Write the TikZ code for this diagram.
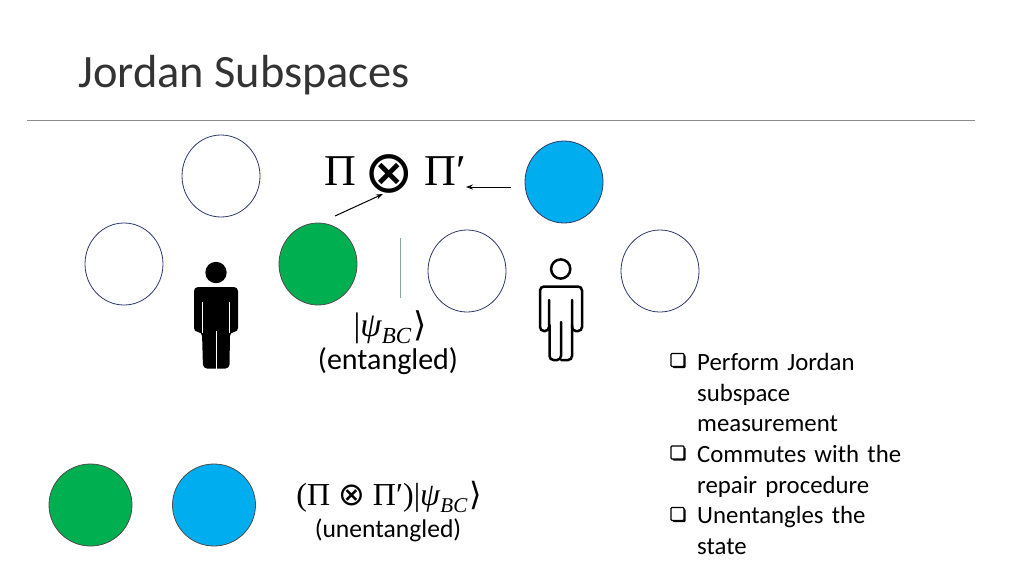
\RequirePackage{fix-cm}
\documentclass[tikz,border=0pt]{standalone}
\usepackage[no-math]{fontspec}
\setmainfont{Carlito}
\newfontfamily\opfont{Liberation Serif}
\newfontfamily\symfont{DejaVu Sans}
\usetikzlibrary{shapes.geometric,shadows,arrows.meta}

\definecolor{slidegreen}{HTML}{00B050}
\definecolor{slideblue}{HTML}{00AEEF}
\definecolor{ringblue}{HTML}{2F3A6B}
\newcommand{\sizedtext}[1]{\fontsize{#1}{#1}\selectfont}
\newcommand{\psiket}[1]{{\opfont|\textit{ψ}\raisebox{-0.2em}{\fontsize{#1}{#1}\selectfont\textit{BC}}}{\symfont\kern0.05em⟩}}

\tikzset{
    qubit/.style={ellipse, draw=ringblue, fill=white, line width=0.8pt, minimum width=78pt, minimum height=82pt, inner sep=0pt},
    bigqubit/.style={qubit, draw=black!70, minimum width=83pt},
    tickbox/.style={rectangle, draw=black, fill=white, line width=1.2pt, rounded corners=1pt, minimum size=13pt, inner sep=0pt,
        general shadow={shadow xshift=1.5pt, shadow yshift=-1.5pt, fill=black}},
    point/.style={inner sep=0pt, text width=210pt, align=left, anchor=north west, font=\fontsize{24.8}{30.7}\selectfont},
    pointer/.style={-{Stealth[length=7pt,width=5pt]}, line width=1pt},
}

\begin{document}
\begin{tikzpicture}[x=1pt,y=-1pt]
    \useasboundingbox (0,0) rectangle (1024,576);

    \node[anchor=base west, inner sep=0pt, font=\sizedtext{46.4}, text=black!80] (title) at (78,87) {Jordan Subspaces};
    \draw[black!45, line width=0.8pt] (27,120.5) coordinate (ruleL) -- (975,120.5) coordinate (ruleR);

    % top row
    \node[qubit] (emptyA) at (221,176) {};
    \node[qubit, fill=slideblue] (blueA) at (564,182) {};

    % middle row
    \node[qubit] (emptyB) at (124,264) {};
    \node[qubit, fill=slidegreen, draw=black!70] (greenA) at (318,264) {};
    \node[qubit] (emptyC) at (467,271) {};
    \node[qubit] (emptyD) at (660,271) {};

    % bottom row
    \node[bigqubit, fill=slidegreen] (greenB) at (90.5,505) {};
    \node[bigqubit, fill=slideblue] (blueB) at (214,505) {};

    % operator
    \node[inner sep=0pt, font=\sizedtext{44}\opfont] (piL) at (340,171) {Π};
    \node[inner sep=0pt, font=\sizedtext{59}\symfont] (tensor) at (389.5,173.5) {⊗};
    \node[inner sep=0pt, font=\sizedtext{44}\opfont] (piR) at (445,171) {Π′};

    \coordinate (fromGreen) at (335,216);
    \coordinate (toTensor) at (383,194);
    \coordinate (fromBlue) at (511,187);
    \coordinate (toPi) at (466,187);
    \draw[pointer] (fromGreen) -- (toTensor);
    \draw[pointer] (fromBlue) -- (toPi);

    % cut between the two sides
    \coordinate (cutT) at (400,238);
    \coordinate (cutB) at (400,298);
    \draw[teal!35!gray!70, line width=0.8pt] (cutT) -- (cutB);

    \node[inner sep=0pt, font=\sizedtext{34}] (ket) at (390,327) {\psiket{23}};
    \node[inner sep=0pt, font=\sizedtext{30}] (entangled) at (388,361) {(entangled)};
    \node[inner sep=0pt, font=\sizedtext{32}] (ketB) at (389,497) {{\opfont(Π }{\symfont ⊗}{\opfont\ Π′)}\psiket{21}};
    \node[inner sep=0pt, font=\sizedtext{25.6}] (unentangled) at (388,530) {(unentangled)};

    % filled person
    \fill (216,272.5) circle (10.7);
    \fill[rounded corners=4pt] (194,332) -- (194,287) -- (238,287) -- (238,332) -- (230,332) -- (229.5,368.5) -- (203,368.5) -- (202,332) -- cycle;
    \draw[white, line width=0.9pt] (202.7,302) -- (202.7,333);
    \draw[white, line width=0.9pt] (229.3,302) -- (229.3,333);
    \draw[white, line width=0.9pt] (216,331) -- (216,369);

    % outlined person
    \draw[line width=2.5pt] (560.7,269) circle (9.6);
    \draw[line width=2.5pt, rounded corners=4pt, line cap=round] (549,300) -- (549,331) -- (540,331) -- (540,286.5) -- (582,286.5) -- (582,331) -- (572,331) -- (572,300);
    \draw[line width=2.5pt, rounded corners=4pt, line cap=round] (549.5,325) -- (549.5,360) -- (561,360) -- (561,322);
    \draw[line width=2.5pt, rounded corners=4pt, line cap=round] (572,325) -- (572,360) -- (561,360);

    % list on the right
    \node[tickbox] (boxA) at (677.5,360) {};
    \node[tickbox] (boxB) at (677.5,452.5) {};
    \node[tickbox] (boxC) at (677.5,514) {};
    \node[point] (textA) at (697,353) {Perform Jordan\\subspace\\measurement};
    \node[point] (textB) at (697,445) {Commutes with the\\repair procedure};
    \node[point] (textC) at (697,506) {Unentangles the\\state};
\end{tikzpicture}
\end{document}
